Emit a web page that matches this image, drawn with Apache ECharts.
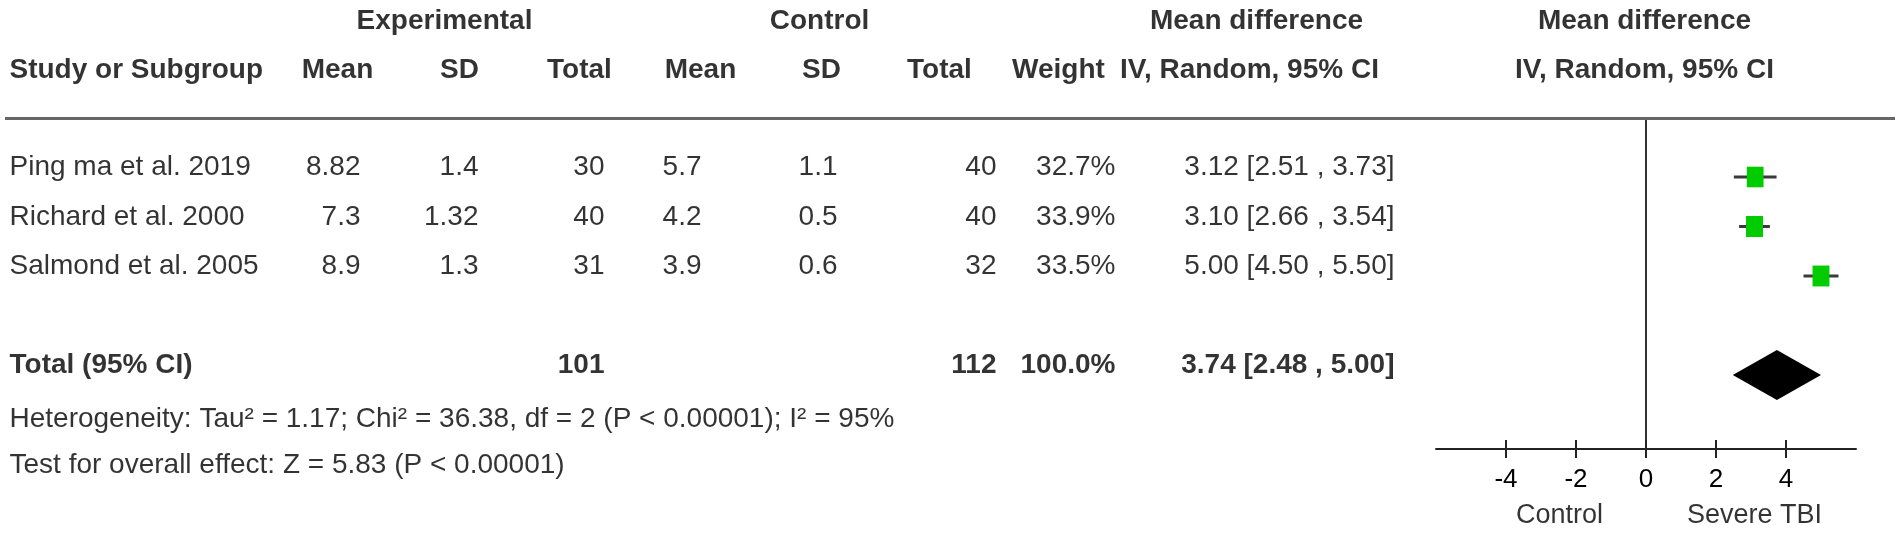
<!DOCTYPE html>
<html>
<head>
<meta charset="utf-8">
<script src="https://cdn.jsdelivr.net/npm/echarts@6/dist/echarts.min.js"></script>
<style>
html,body{margin:0;padding:0;background:#ffffff;}
#chart{width:1902px;height:533px;}
</style>
</head>
<body>
<div id="chart"></div>
<script>
// ---------------- data ----------------
const studies   = ['Ping ma et al. 2019', 'Richard et al. 2000', 'Salmond et al. 2005'];
const expMean   = [8.82, 7.3, 8.9];
const expSD     = [1.4, 1.32, 1.3];
const expTotal  = [30, 40, 31];
const ctrlMean  = [5.7, 4.2, 3.9];
const ctrlSD    = [1.1, 0.5, 0.6];
const ctrlTotal = [40, 40, 32];
const weights   = [32.7, 33.9, 33.5];
const md        = [3.12, 3.10, 5.00];
const ciLow     = [2.51, 2.66, 4.50];
const ciHigh    = [3.73, 3.54, 5.50];

const pooledLabel     = 'Total (95% CI)';
const pooledExpTotal  = 101;
const pooledCtrlTotal = 112;
const pooledWeight    = 100.0;
const pooledMD        = 3.74;
const pooledLow       = 2.48;
const pooledHigh      = 5.00;

const heterogeneityText = 'Heterogeneity: Tau\u00B2 = 1.17; Chi\u00B2 = 36.38, df = 2 (P < 0.00001); I\u00B2 = 95%';
const overallText       = 'Test for overall effect: Z = 5.83 (P < 0.00001)';

const groupHeaders  = ['Experimental', 'Control', 'Mean difference', 'Mean difference'];
const columnHeaders = ['Study or Subgroup', 'Mean', 'SD', 'Total', 'Mean', 'SD', 'Total', 'Weight', 'IV, Random, 95% CI', 'IV, Random, 95% CI'];
const xTicks   = [-4, -2, 0, 2, 4];
const xMin = -6, xMax = 6;
const favoursLeft  = 'Control';
const favoursRight = 'Severe TBI';

// ---------------- layout ----------------
const FONT = '"Liberation Sans", Arial, Helvetica, sans-serif';
const W = 1902, H = 533;
const ROW0 = 177, ROWH = 49.5;            // pixel of row 0 and row pitch
const rowOf = px => (px - ROW0) / ROWH;     // pixel -> row units
const PLOT = {left: 1436, top: 118, width: 420, height: 331};
const TXT_OFF = -0.18;                      // text sits slightly above markers
const yHdr1 = rowOf(22), yHdr2 = rowOf(71);
const yTotal = 4;
const yHet = rowOf(420), yTest = rowOf(466), yFav = rowOf(516);

const colRight = {expMean: 361, expSD: 479, expTotal: 605, ctrlMean: 702, ctrlSD: 838, ctrlTotal: 997, weight: 1116, ci: 1395};
const hdrCenter = [338, 460, 580, 701, 822, 940, 1059, 1250, 1645];
const grpCenter = [445, 820, 1257, 1645];
const favCenter = [1560, 1755];

const f2 = v => v.toFixed(2);
const ciText = (m, l, h) => f2(m) + ' [' + f2(l) + ' , ' + f2(h) + ']';

// ---------------- text items ----------------
const leftNormal = [], leftBold = [], centerBold = [], centerNormal = [], rightNormal = [], rightBold = [];

leftBold.push([10, yHdr2, columnHeaders[0]]);
for (let i = 1; i < columnHeaders.length; i++) centerBold.push([hdrCenter[i - 1], yHdr2, columnHeaders[i]]);
groupHeaders.forEach((g, i) => centerBold.push([grpCenter[i], yHdr1, g]));

studies.forEach((s, i) => {
  const y = i + TXT_OFF;
  leftNormal.push([10, y, s]);
  rightNormal.push([colRight.expMean, y, String(expMean[i])]);
  rightNormal.push([colRight.expSD, y, String(expSD[i])]);
  rightNormal.push([colRight.expTotal, y, String(expTotal[i])]);
  rightNormal.push([colRight.ctrlMean, y, String(ctrlMean[i])]);
  rightNormal.push([colRight.ctrlSD, y, String(ctrlSD[i])]);
  rightNormal.push([colRight.ctrlTotal, y, String(ctrlTotal[i])]);
  rightNormal.push([colRight.weight, y, weights[i].toFixed(1) + '%']);
  rightNormal.push([colRight.ci, y, ciText(md[i], ciLow[i], ciHigh[i])]);
});

leftBold.push([10, yTotal + TXT_OFF, pooledLabel]);
rightBold.push([colRight.expTotal, yTotal + TXT_OFF, String(pooledExpTotal)]);
rightBold.push([colRight.ctrlTotal, yTotal + TXT_OFF, String(pooledCtrlTotal)]);
rightBold.push([colRight.weight, yTotal + TXT_OFF, pooledWeight.toFixed(1) + '%']);
rightBold.push([colRight.ci, yTotal + TXT_OFF, ciText(pooledMD, pooledLow, pooledHigh)]);

leftNormal.push([10, yHet, heterogeneityText]);
leftNormal.push([10, yTest, overallText]);
centerNormal.push([favCenter[0], yFav, favoursLeft]);
centerNormal.push([favCenter[1], yFav, favoursRight]);

function textSeries(items, align, bold, size) {
  return {
    type: 'scatter', xAxisIndex: 0, yAxisIndex: 0, symbolSize: 1, clip: false, silent: true,
    itemStyle: {color: 'rgba(0,0,0,0)'},
    data: items.map(it => ({value: [it[0], it[1]], name: it[2]})),
    label: {
      show: true, position: [0, 0], align: align, verticalAlign: 'middle', formatter: '{b}',
      fontFamily: FONT, fontSize: size || 28, fontWeight: bold ? 'bold' : 'normal', color: '#000'
    },
    emphasis: {disabled: true},
    z: 5
  };
}

const chart = echarts.init(document.getElementById('chart'), null, {renderer: 'canvas'});

const headerLineSeries = {
  type: 'scatter', xAxisIndex: 0, yAxisIndex: 0, data: [], silent: true,
  markLine: {
    silent: true, symbol: ['none', 'none'], label: {show: false}, animation: false,
    lineStyle: {color: '#666', width: 3, type: 'solid'},
    data: [[{coord: [5, rowOf(PLOT.top)]}, {coord: [1895, rowOf(PLOT.top)]}]]
  }
};

const studySeries = {
  type: 'custom', xAxisIndex: 1, yAxisIndex: 1, silent: true, clip: false,
  data: md.map((m, i) => [i, m, ciLow[i], ciHigh[i], weights[i]]),
  encode: {x: [1, 2, 3], y: 0},
  renderItem: function (params, api) {
    const r = api.value(0);
    const p = api.coord([api.value(1), r]);
    const lo = api.coord([api.value(2), r]);
    const hi = api.coord([api.value(3), r]);
    const s = Math.sqrt(api.value(4) / 33.9);
    const w = 17 * s, h = 21 * s;
    return {
      type: 'group',
      children: [
        {type: 'line', shape: {x1: lo[0], y1: lo[1], x2: hi[0], y2: hi[1]}, style: {stroke: '#3a3a3a', lineWidth: 3}},
        {type: 'rect', shape: {x: p[0] - w / 2, y: p[1] - h / 2, width: w, height: h}, style: {fill: '#00cc00'}}
      ]
    };
  },
  z: 4
};

const pooledSeries = {
  type: 'custom', xAxisIndex: 1, yAxisIndex: 1, silent: true, clip: false,
  data: [[yTotal, pooledMD, pooledLow, pooledHigh]],
  encode: {x: [1, 2, 3], y: 0},
  renderItem: function (params, api) {
    const r = api.value(0);
    const c = api.coord([api.value(1), r]);
    const lo = api.coord([api.value(2), r]);
    const hi = api.coord([api.value(3), r]);
    const hh = 25;
    return {
      type: 'polygon',
      shape: {points: [[lo[0], lo[1]], [c[0], c[1] - hh], [hi[0], hi[1]], [c[0], c[1] + hh]]},
      style: {fill: '#000'}
    };
  },
  z: 4
};

const option = {
  backgroundColor: '#ffffff',
  animation: false,
  grid: [
    {left: 0, top: 0, width: W, height: H, outerBoundsMode: 'none'},
    {left: PLOT.left, top: PLOT.top, width: PLOT.width, height: PLOT.height, outerBoundsMode: 'none'},
    {left: PLOT.left, top: PLOT.top, width: PLOT.width, height: PLOT.height, outerBoundsMode: 'none'}
  ],
  xAxis: [
    {gridIndex: 0, type: 'value', min: 0, max: W, show: false},
    {
      gridIndex: 1, type: 'value', min: xMin, max: xMax, interval: 2, position: 'bottom',
      axisLine: {show: true, onZero: false, lineStyle: {color: '#222', width: 2}},
      axisTick: {show: true, inside: false, length: 9, customValues: xTicks, lineStyle: {color: '#222', width: 2}},
      axisLabel: {show: true, customValues: xTicks, margin: 18, fontFamily: FONT, fontSize: 26, color: '#000'},
      splitLine: {show: false}
    },
    {
      gridIndex: 2, type: 'value', min: xMin, max: xMax, interval: 2, position: 'bottom',
      axisLine: {show: false, onZero: false},
      axisTick: {show: true, inside: true, length: 9, customValues: xTicks, lineStyle: {color: '#222', width: 2}},
      axisLabel: {show: false},
      splitLine: {show: false}
    }
  ],
  yAxis: [
    {gridIndex: 0, type: 'value', min: rowOf(0), max: rowOf(H), inverse: true, show: false},
    {
      gridIndex: 1, type: 'value', min: rowOf(PLOT.top), max: rowOf(PLOT.top + PLOT.height), inverse: true,
      axisLine: {show: true, onZero: true, lineStyle: {color: '#333', width: 2}},
      axisTick: {show: false}, axisLabel: {show: false}, splitLine: {show: false}
    },
    {gridIndex: 2, type: 'value', min: rowOf(PLOT.top), max: rowOf(PLOT.top + PLOT.height), inverse: true, show: false}
  ],
  series: [
    headerLineSeries,
    studySeries,
    pooledSeries,
    textSeries(leftNormal, 'left', false),
    textSeries(leftBold, 'left', true),
    textSeries(centerBold, 'center', true),
    textSeries(centerNormal, 'center', false, 27),
    textSeries(rightNormal, 'right', false),
    textSeries(rightBold, 'right', true)
  ]
};

chart.setOption(option);
</script>
</body>
</html>
